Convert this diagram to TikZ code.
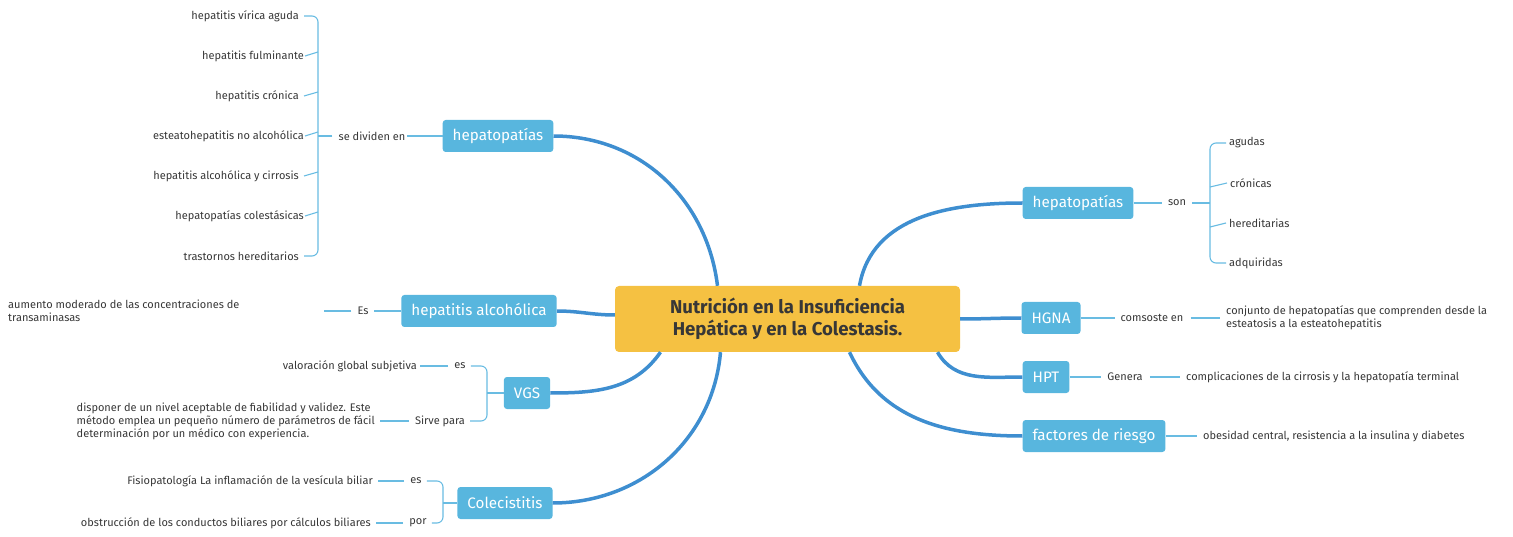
\documentclass[tikz,border=0pt]{standalone}
\usepackage{fontspec}
\setmainfont{Fira Sans}
\usetikzlibrary{calc}
\definecolor{nodeblue}{RGB}{88,182,222}
\definecolor{thickblue}{RGB}{62,142,208}
\definecolor{thinblue}{RGB}{105,188,226}
\definecolor{centerfill}{RGB}{245,193,66}
\definecolor{txt}{RGB}{55,55,55}
\tikzset{
  x=1pt,y=-1pt,
  topic/.style={fill=nodeblue,text=white,rounded corners=3pt,minimum height=32pt,inner xsep=10pt,font=\fontsize{15.2}{17}\selectfont},
  central/.style={fill=centerfill,text=txt,rounded corners=4pt,minimum width=345pt,minimum height=66pt,align=center,font=\fontsize{18.6}{22}\selectfont\bfseries},
  lbl/.style={text=txt,inner sep=1pt,font=\fontsize{11}{13}\selectfont},
  mainline/.style={draw=thickblue,line width=3.5pt},
  thin/.style={draw=thinblue,line width=1.1pt},
}
\begin{document}
\begin{tikzpicture}
\useasboundingbox (0,0) rectangle (1513,537);
% central
\node[central] (c) at (787.5,319) {Nutrición en la Insuficiencia\\Hepática y en la Colestasis.};
% topics
\node[topic] (hl) at (498,136) {hepatopatías};
\node[topic] (ha) at (479,311) {hepatitis alcohólica};
\node[topic] (vgs) at (527,393) {VGS};
\node[topic] (col) at (505,503) {Colecistitis};
\node[topic] (hr) at (1078,203) {hepatopatías};
\node[topic] (hgna) at (1051,318) {HGNA};
\node[topic] (hpt) at (1046,377) {HPT};
\node[topic] (fr) at (1094,436) {factores de riesgo};
% main connectors
\draw[mainline] (hl.east) to[out=0,in=97] ([xshift=-70pt]c.north);
\draw[mainline] (ha.east) to[out=0,in=180] ([yshift=4pt]c.west);
\draw[mainline] (vgs.east) to[out=0,in=-125] ([xshift=-127pt]c.south);
\draw[mainline] (col.east) to[out=0,in=-95] ([xshift=-67pt]c.south);
\draw[mainline] ([xshift=72pt]c.north) to[out=80,in=180] (hr.west);
\draw[mainline] (c.east) to[out=0,in=180] (hgna.west);
\draw[mainline] ([xshift=150pt]c.south) to[out=-60,in=180] (hpt.west);
\draw[mainline] ([xshift=62pt]c.south) to[out=-65,in=180] (fr.west);
% left hepatopatias branch
\node[lbl] (sd) at (372,136) {se dividen en};
\node[lbl,anchor=east] (l1) at (300,16) {hepatitis vírica aguda};
\node[lbl,anchor=east] (l2) at (305,56) {hepatitis fulminante};
\node[lbl,anchor=east] (l3) at (300,96) {hepatitis crónica};
\node[lbl,anchor=east] (l4) at (305,136) {esteatohepatitis no alcohólica};
\node[lbl,anchor=east] (l5) at (300,176) {hepatitis alcohólica y cirrosis};
\node[lbl,anchor=east] (l6) at (305,216) {hepatopatías colestásicas};
\node[lbl,anchor=east] (l7) at (300,256) {trastornos hereditarios};
\coordinate (lb) at (318,136);
\draw[thin] (hl.west) -- ++(-36,0);
\draw[thin] (sd.west) ++(-5,0) -- (lb);
\draw[thin,rounded corners=6pt] ([xshift=4pt]l1.east) -- (lb |- l1.east) -- (lb |- l7.east) -- ([xshift=4pt]l7.east);
\foreach \n in {l3,l5} \draw[thin,rounded corners=3pt] ([xshift=4pt]\n.east) -- ($(lb |- \n.east)+(0,-4)$);
\foreach \n in {l2,l4,l6} \draw[thin,rounded corners=3pt] (\n.east) -- ($(lb |- \n.east)+(0,-4)$);
% hepatitis alcoholica branch
\node[lbl] (es1) at (363,311) {Es};
\node[lbl,anchor=west,align=left] (am) at (7,311) {aumento moderado de las concentraciones de\\transaminasas};
\draw[thin] (ha.west) -- ([xshift=4pt]es1.east);
\draw[thin] (es1.west) ++(-5,0) -- ++(-27,0);
% VGS branch
\coordinate (vb) at (487,393);
\node[lbl] (es2) at (460,366) {es};
\node[lbl] (sp) at (440,421) {Sirve para};
\node[lbl,anchor=east] (vg) at (418,366) {valoración global subjetiva};
\node[lbl,anchor=east,align=left] (dp) at (376,421) {disponer de un nivel aceptable de fiabilidad y validez. Este\\método emplea un pequeño número de parámetros de fácil\\determinación por un médico con experiencia.};
\draw[thin] (vgs.west) -- (vb);
\draw[thin,rounded corners=6pt] ([xshift=4pt]es2.east) -- (vb |- es2.east) -- (vb |- sp.east) -- ([xshift=4pt]sp.east);
\draw[thin] (es2.west) ++(-5,0) -- ([xshift=2pt]vg.east);
\draw[thin] (sp.west) ++(-5,0) -- ([xshift=4pt]dp.east);
% Colecistitis branch
\coordinate (cb) at (443,503);
\node[lbl] (es3) at (416,481) {es};
\node[lbl] (por) at (418,523) {por};
\node[lbl,anchor=east] (fi) at (374,481) {Fisiopatología La inflamación de la vesícula biliar};
\node[lbl,anchor=east] (ob) at (372,523) {obstrucción de los conductos biliares por cálculos biliares};
\draw[thin] (col.west) -- (cb);
\draw[thin,rounded corners=6pt] ([xshift=4pt]es3.east) -- (cb |- es3.east) -- (cb |- por.east) -- ([xshift=4pt]por.east);
\draw[thin] (es3.west) ++(-5,0) -- ([xshift=4pt]fi.east);
\draw[thin] (por.west) ++(-5,0) -- ([xshift=4pt]ob.east);
% right hepatopatias branch
\node[lbl] (son) at (1177,203) {son};
\coordinate (rb) at (1210,203);
\node[lbl,anchor=west] (r1) at (1228,143) {agudas};
\node[lbl,anchor=west] (r2) at (1229,183) {crónicas};
\node[lbl,anchor=west] (r3) at (1228,223) {hereditarias};
\node[lbl,anchor=west] (r4) at (1228,263) {adquiridas};
\draw[thin] (hr.east) -- ([xshift=-5pt]son.west);
\draw[thin] ([xshift=5pt]son.east) -- (rb);
\draw[thin,rounded corners=6pt] ([xshift=-2pt]r1.west) -- (rb |- r1.west) -- (rb |- r4.west) -- ([xshift=-2pt]r4.west);
\foreach \n in {r2,r3} \draw[thin,rounded corners=3pt] ([xshift=-2pt]\n.west) -- ($(rb |- \n.west)+(0,4)$);
% HGNA branch
\node[lbl] (cm) at (1152,318) {comsoste en};
\node[lbl,anchor=west,align=left] (cj) at (1225,318) {conjunto de hepatopatías que comprenden desde la\\esteatosis a la esteatohepatitis};
\draw[thin] (hgna.east) -- ([xshift=-4pt]cm.west);
\draw[thin] ([xshift=6pt]cm.east) -- ([xshift=-5pt]cj.west);
% HPT branch
\node[lbl] (gen) at (1125,377) {Genera};
\node[lbl,anchor=west] (cp) at (1185,377) {complicaciones de la cirrosis y la hepatopatía terminal};
\draw[thin] (hpt.east) -- ([xshift=-5pt]gen.west);
\draw[thin] ([xshift=6pt]gen.east) -- ([xshift=-5pt]cp.west);
% factores branch
\node[lbl,anchor=west] (ob2) at (1202,436) {obesidad central, resistencia a la insulina y diabetes};
\draw[thin] (fr.east) -- ([xshift=-5pt]ob2.west);
\end{tikzpicture}
\end{document}
